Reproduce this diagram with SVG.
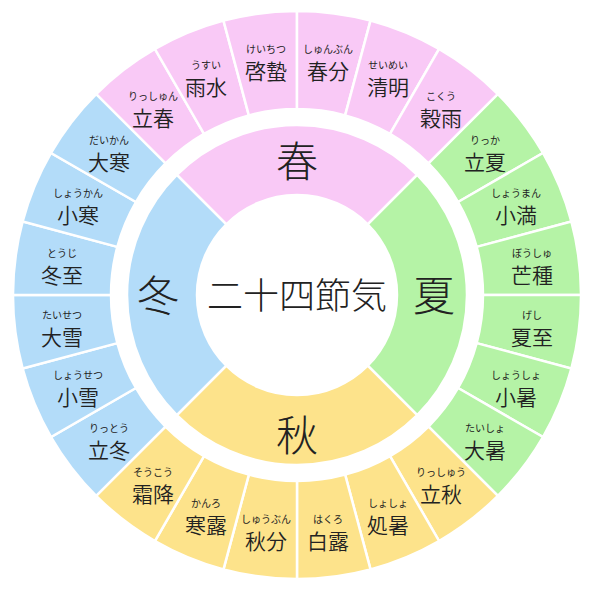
<svg xmlns="http://www.w3.org/2000/svg" width="600" height="591" viewBox="0 0 600 591">
<style>
text{font-family:"Noto Sans CJK JP","Noto Sans",sans-serif;text-anchor:middle;dominant-baseline:central;fill:#222}
.k{font-size:21px;font-weight:350}
.f{font-size:10px}
.s{font-size:42px;font-weight:300}
.c{font-size:36px;font-weight:300}
.seg{stroke:#fff;stroke-width:2.5}
.sp{fill:#f9c9f6}.su{fill:#b5f3a6}.au{fill:#fde38b}.wi{fill:#b3dcf9}
</style>
<defs>
<path id="seg" d="M184.4,-24.28 L281.6,-37.07 A284,284 0 0 1 281.6,37.07 L184.4,24.28 A186,186 0 0 0 184.4,-24.28Z"/>
<path id="sea" d="M70.71,-70.71 L120.21,-120.21 A170,170 0 0 1 120.21,120.21 L70.71,70.71 A100,100 0 0 0 70.71,-70.71Z"/>
</defs>
<rect width="600" height="591" fill="#fff"/>
<g id="seasons">
<g id="spring"><use href="#sea" class="sp seg" transform="translate(297,295) rotate(-90)"/><text class="s" x="297" y="158">春</text></g>
<g id="summer"><use href="#sea" class="su seg" transform="translate(297,295)"/><text class="s" x="434" y="292">夏</text></g>
<g id="autumn"><use href="#sea" class="au seg" transform="translate(297,295) rotate(90)"/><text class="s" x="297" y="432">秋</text></g>
<g id="winter"><use href="#sea" class="wi seg" transform="translate(297,295) rotate(180)"/><text class="s" x="158" y="292">冬</text></g>
</g>
<g id="center"><text class="c" x="297" y="293">二十四節気</text></g>
<g id="terms">
<g id="t1"><use href="#seg" class="sp seg" transform="translate(297,295) rotate(-127.5)"/><text class="f" x="153" y="95">りっしゅん</text><text class="k" x="153" y="117">立春</text></g>
<g id="t2"><use href="#seg" class="sp seg" transform="translate(297,295) rotate(-112.5)"/><text class="f" x="206" y="64">うすい</text><text class="k" x="206" y="86">雨水</text></g>
<g id="t3"><use href="#seg" class="sp seg" transform="translate(297,295) rotate(-97.5)"/><text class="f" x="266" y="48">けいちつ</text><text class="k" x="266" y="70">啓蟄</text></g>
<g id="t4"><use href="#seg" class="sp seg" transform="translate(297,295) rotate(-82.5)"/><text class="f" x="328" y="48">しゅんぶん</text><text class="k" x="328" y="70">春分</text></g>
<g id="t5"><use href="#seg" class="sp seg" transform="translate(297,295) rotate(-67.5)"/><text class="f" x="388" y="64">せいめい</text><text class="k" x="388" y="86">清明</text></g>
<g id="t6"><use href="#seg" class="sp seg" transform="translate(297,295) rotate(-52.5)"/><text class="f" x="441" y="95">こくう</text><text class="k" x="441" y="117">穀雨</text></g>
<g id="t7"><use href="#seg" class="su seg" transform="translate(297,295) rotate(-37.5)"/><text class="f" x="485" y="139">りっか</text><text class="k" x="485" y="161">立夏</text></g>
<g id="t8"><use href="#seg" class="su seg" transform="translate(297,295) rotate(-22.5)"/><text class="f" x="516" y="192">しょうまん</text><text class="k" x="516" y="214">小満</text></g>
<g id="t9"><use href="#seg" class="su seg" transform="translate(297,295) rotate(-7.5)"/><text class="f" x="532" y="252">ぼうしゅ</text><text class="k" x="532" y="274">芒種</text></g>
<g id="t10"><use href="#seg" class="su seg" transform="translate(297,295) rotate(7.5)"/><text class="f" x="532" y="314">げし</text><text class="k" x="532" y="336">夏至</text></g>
<g id="t11"><use href="#seg" class="su seg" transform="translate(297,295) rotate(22.5)"/><text class="f" x="516" y="374">しょうしょ</text><text class="k" x="516" y="396">小暑</text></g>
<g id="t12"><use href="#seg" class="su seg" transform="translate(297,295) rotate(37.5)"/><text class="f" x="485" y="427">たいしょ</text><text class="k" x="485" y="449">大暑</text></g>
<g id="t13"><use href="#seg" class="au seg" transform="translate(297,295) rotate(52.5)"/><text class="f" x="441" y="471">りっしゅう</text><text class="k" x="441" y="493">立秋</text></g>
<g id="t14"><use href="#seg" class="au seg" transform="translate(297,295) rotate(67.5)"/><text class="f" x="388" y="502">しょしょ</text><text class="k" x="388" y="524">処暑</text></g>
<g id="t15"><use href="#seg" class="au seg" transform="translate(297,295) rotate(82.5)"/><text class="f" x="328" y="518">はくろ</text><text class="k" x="328" y="540">白露</text></g>
<g id="t16"><use href="#seg" class="au seg" transform="translate(297,295) rotate(97.5)"/><text class="f" x="266" y="518">しゅうぶん</text><text class="k" x="266" y="540">秋分</text></g>
<g id="t17"><use href="#seg" class="au seg" transform="translate(297,295) rotate(112.5)"/><text class="f" x="206" y="502">かんろ</text><text class="k" x="206" y="524">寒露</text></g>
<g id="t18"><use href="#seg" class="au seg" transform="translate(297,295) rotate(127.5)"/><text class="f" x="153" y="471">そうこう</text><text class="k" x="153" y="493">霜降</text></g>
<g id="t19"><use href="#seg" class="wi seg" transform="translate(297,295) rotate(142.5)"/><text class="f" x="109" y="427">りっとう</text><text class="k" x="109" y="449">立冬</text></g>
<g id="t20"><use href="#seg" class="wi seg" transform="translate(297,295) rotate(157.5)"/><text class="f" x="78" y="374">しょうせつ</text><text class="k" x="78" y="396">小雪</text></g>
<g id="t21"><use href="#seg" class="wi seg" transform="translate(297,295) rotate(172.5)"/><text class="f" x="62" y="314">たいせつ</text><text class="k" x="62" y="336">大雪</text></g>
<g id="t22"><use href="#seg" class="wi seg" transform="translate(297,295) rotate(187.5)"/><text class="f" x="62" y="252">とうじ</text><text class="k" x="62" y="274">冬至</text></g>
<g id="t23"><use href="#seg" class="wi seg" transform="translate(297,295) rotate(202.5)"/><text class="f" x="78" y="192">しょうかん</text><text class="k" x="78" y="214">小寒</text></g>
<g id="t24"><use href="#seg" class="wi seg" transform="translate(297,295) rotate(217.5)"/><text class="f" x="109" y="139">だいかん</text><text class="k" x="109" y="161">大寒</text></g>
</g>
</svg>
